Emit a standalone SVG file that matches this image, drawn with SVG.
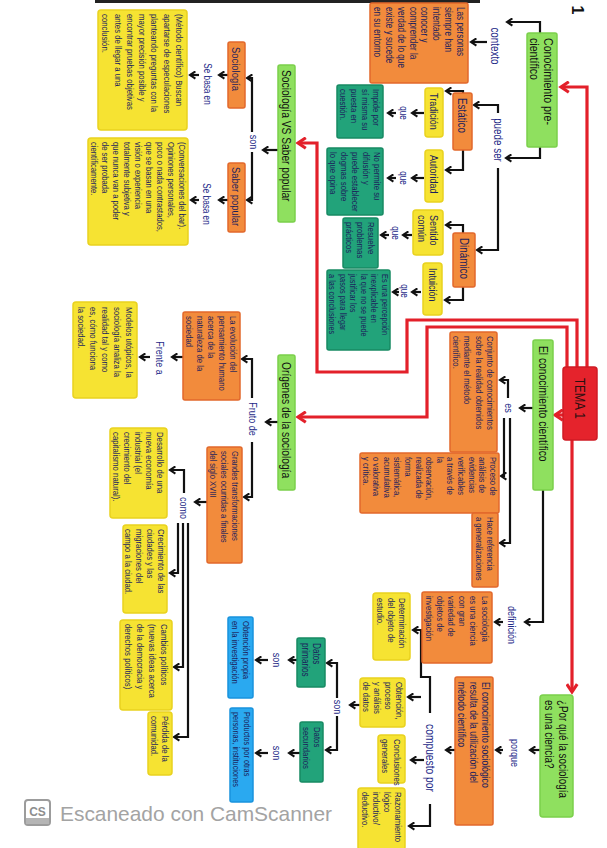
<svg xmlns="http://www.w3.org/2000/svg" width="607" height="848" viewBox="0 0 607 848">
<style>
.or{fill:#f28b3c;stroke:#e2682b;stroke-width:1.5}
.ye{fill:#f6e332;stroke:#e9d21f;stroke-width:1.5}
.lg{fill:#8fe05f;stroke:#7bd04b;stroke-width:1.5}
.tl{fill:#22a37a;stroke:#178a63;stroke-width:1.5}
.bl{fill:#2aa9f0;stroke:#1893dd;stroke-width:1.5}
.rd{fill:#e5232c;stroke:#cf1b24;stroke-width:1.5}
.t{font-family:"Liberation Sans",Arial,sans-serif;fill:#1c1f5c;font-size:9.5px}
.lb{font-family:"Liberation Sans",Arial,sans-serif;fill:#1e2a88;font-size:11px;text-anchor:middle}
.k{fill:none;stroke:#111;stroke-width:2.2;marker-end:url(#ak)}
.r{fill:none;stroke:#e3202a;stroke-width:3.2;marker-end:url(#ar)}
</style>
<defs>
<marker id="ak" viewBox="0 0 10 10" refX="8" refY="5" markerWidth="9" markerHeight="9" markerUnits="userSpaceOnUse" orient="auto"><path d="M2,1 L8,5 L2,9" fill="none" stroke="#111" stroke-width="2.3"/></marker>
<marker id="ar" viewBox="0 0 10 10" refX="8" refY="5" markerWidth="13" markerHeight="13" markerUnits="userSpaceOnUse" orient="auto"><path d="M2,1 L8,5 L2,9" fill="none" stroke="#e3202a" stroke-width="2.4"/></marker>
</defs>
<rect width="607" height="848" fill="#ffffff"/>
<rect x="95" y="0" width="385" height="3" fill="#222"/>
<text x="0" y="5" transform="translate(577,10) rotate(90)" font-family="Liberation Sans,sans-serif" font-size="16" font-weight="bold" text-anchor="middle" fill="#111">1</text>

<g id="connectors">
<path class="r" d="M587,367 V87 H561"/>
<path class="r" d="M577,367 V320 H407 V372 H317 V143 H298"/>
<path class="r" d="M567,367 V327 H427 V417 H298"/>
<path class="r" d="M565,415 H555"/>
<path class="r" d="M572,440 V692"/>

<path class="k" d="M540,33 V22 H507"/>
<path class="k" d="M487,42 H471"/>
<path class="k" d="M540,147 V158 H506"/>
<path class="k" d="M498,113 V105 H474"/>
<path class="k" d="M498,168 V250 H477"/>
<path class="k" d="M463,95 V91 H446"/>
<path class="k" d="M463,150 V170 H446"/>
<path class="k" d="M463,233 V225 H446"/>
<path class="k" d="M463,287 V300 H445"/>
<path class="k" d="M424,113 H412"/><path class="k" d="M396,113 H388"/>
<path class="k" d="M424,178 H412"/><path class="k" d="M396,178 H388"/>
<path class="k" d="M412,235 H403"/><path class="k" d="M389,235 H381"/>
<path class="k" d="M421,292 H412"/><path class="k" d="M399,292 H393"/>

<path class="k" d="M278,150 H263"/>
<path class="k" d="M252,132 V78 H247"/>
<path class="k" d="M252,152 V200 H247"/>
<path class="k" d="M228,75 H219"/><path class="k" d="M199,75 H190"/>
<path class="k" d="M228,200 H219"/><path class="k" d="M199,200 H191"/>

<path class="k" d="M278,422 H266"/>
<path class="k" d="M252,398 V359 H242"/>
<path class="k" d="M252,442 V497 H244"/>
<path class="k" d="M183,357 H172"/><path class="k" d="M150,357 H140"/>
<path class="k" d="M207,502 H195"/>
<path class="k" d="M184,493 V470 H170"/>
<path class="k" d="M178,523 V573 H170"/>
<path class="k" d="M183,523 V667 H174"/>
<path class="k" d="M188,523 V737 H174"/>

<path class="k" d="M533,408 H520"/>
<path class="k" d="M508,398 V380 H500"/>
<path class="k" d="M504,418 V476 H501"/>
<path class="k" d="M510,418 V543 H500"/>
<path class="k" d="M543,490 V622 H525"/>
<path class="k" d="M503,622 H495"/>

<path class="k" d="M540,750 H530"/>
<path class="k" d="M503,750 H496"/>
<path class="k" d="M455,750 H446"/>
<path class="k" d="M430,713 V677 H421 V630 H413"/>
<path class="k" d="M421,697 H408"/>
<path class="k" d="M424,760 H411"/>
<path class="k" d="M430,804 V826 H409"/>
<path class="k" d="M360,705 H350"/>
<path class="k" d="M337,698 V663 H327"/>
<path class="k" d="M337,716 V750 H326"/>
<path class="k" d="M297,660 H289"/><path class="k" d="M268,660 H256"/>
<path class="k" d="M300,753 H289"/><path class="k" d="M268,753 H256"/>

<text class="lb" style="font-size:12px" transform="translate(495,46) rotate(90) scale(0.82,1)" y="4.2">contexto</text>
<text class="lb" style="font-size:12px" transform="translate(498,140) rotate(90) scale(0.82,1)" y="4.2">puede ser</text>
<text class="lb" style="font-size:10px" transform="translate(404,113) rotate(90) scale(0.82,1)" y="3.5">que</text>
<text class="lb" style="font-size:10px" transform="translate(404,178) rotate(90) scale(0.82,1)" y="3.5">que</text>
<text class="lb" style="font-size:10px" transform="translate(396,233) rotate(90) scale(0.82,1)" y="3.5">que</text>
<text class="lb" style="font-size:10px" transform="translate(405,291) rotate(90) scale(0.82,1)" y="3.5">que</text>
<text class="lb" transform="translate(254,142) rotate(90) scale(0.82,1)" y="3.8">son</text>
<text class="lb" style="font-size:10px" transform="translate(208,84) rotate(90) scale(0.82,1)" y="3.5">Se basa en</text>
<text class="lb" style="font-size:10px" transform="translate(207,204) rotate(90) scale(0.82,1)" y="3.5">Se basa en</text>
<text class="lb" transform="translate(160,358) rotate(90) scale(0.82,1)" y="3.8">Frente a</text>
<text class="lb" transform="translate(253,419) rotate(90) scale(0.82,1)" y="3.8">Fruto de</text>
<text class="lb" transform="translate(184,508) rotate(90) scale(0.82,1)" y="3.8">como</text>
<text class="lb" transform="translate(509,408) rotate(90) scale(0.82,1)" y="3.8">es</text>
<text class="lb" transform="translate(512,625) rotate(90) scale(0.82,1)" y="3.8">definición</text>
<text class="lb" transform="translate(515,753) rotate(90) scale(0.82,1)" y="3.8">porque</text>
<text class="lb" style="font-size:12.5px" transform="translate(430,758) rotate(90) scale(0.82,1)" y="4.3">compuesto por</text>
<text class="lb" transform="translate(338,707) rotate(90) scale(0.82,1)" y="3.8">son</text>
<text class="lb" transform="translate(277,660) rotate(90) scale(0.82,1)" y="3.8">son</text>
<text class="lb" transform="translate(277,753) rotate(90) scale(0.82,1)" y="3.8">son</text>
</g>

<g id="tema1"><rect class="rd" x="563" y="367" width="34" height="73" rx="3"/>
<text class="t" style="font-size:14px;fill:#2a1010" transform="translate(580,378) rotate(90) scale(0.82,1)" y="4.9">TEMA 1</text></g>

<g id="pre-cientifico"><rect class="lg" x="527" y="33" width="30" height="114" rx="2"/>
<text class="t" style="font-size:13px;fill:#111" transform="translate(542,38) rotate(90) scale(0.82,1)"><tspan x="0" y="-2.45">Conocimiento pre-</tspan><tspan x="0" y="11.55">científico</tspan></text></g>

<g id="las-personas"><rect class="or" x="370" y="3" width="98" height="80" rx="2"/>
<text class="t" style="font-size:10px" transform="translate(419,7) rotate(90) scale(0.82,1)"><tspan x="0" y="-38.5">Las personas</tspan><tspan x="0" y="-26.5">siempre han</tspan><tspan x="0" y="-14.5">intentado</tspan><tspan x="0" y="-2.5">conocer y</tspan><tspan x="0" y="9.5">comprender la</tspan><tspan x="0" y="21.5">verdad de lo que</tspan><tspan x="0" y="33.5">existe y sucede</tspan><tspan x="0" y="45.5">en su entorno</tspan></text></g>

<g id="estatico"><rect class="or" x="453" y="93" width="19" height="57" rx="2"/>
<text class="t" style="font-size:12px" transform="translate(462.5,98) rotate(90) scale(0.82,1)" y="4.2">Estático</text></g>
<g id="dinamico"><rect class="or" x="453" y="233" width="22" height="54" rx="2"/>
<text class="t" style="font-size:12px" transform="translate(464,238) rotate(90) scale(0.82,1)" y="4.2">Dinámico</text></g>
<g id="tradicion"><rect class="ye" x="425" y="88" width="18" height="49" rx="3"/>
<text class="t" style="font-size:11px" transform="translate(434,93) rotate(90) scale(0.82,1)" y="3.85">Tradición</text></g>
<g id="autoridad"><rect class="ye" x="425" y="150" width="18" height="52" rx="3"/>
<text class="t" style="font-size:11px" transform="translate(434,155) rotate(90) scale(0.82,1)" y="3.85">Autoridad</text></g>
<g id="sentido-comun"><rect class="ye" x="413" y="210" width="30" height="45" rx="3"/>
<text class="t" style="font-size:11px" transform="translate(428,215) rotate(90) scale(0.82,1)"><tspan x="0" y="-2.15">Sentido</tspan><tspan x="0" y="9.85">común</tspan></text></g>
<g id="intuicion"><rect class="ye" x="423" y="263" width="19" height="52" rx="3"/>
<text class="t" style="font-size:11px" transform="translate(432.5,268) rotate(90) scale(0.82,1)" y="3.85">Intuición</text></g>

<g id="impide"><rect class="tl" x="337" y="85" width="46" height="53" rx="2"/>
<text class="t" transform="translate(360,89) rotate(90) scale(0.82,1)"><tspan x="0" y="-13.2">Impide por</tspan><tspan x="0" y="-2.2">sí misma su</tspan><tspan x="0" y="8.8">puesta en</tspan><tspan x="0" y="19.8">cuestión.</tspan></text></g>
<g id="no-permite"><rect class="tl" x="327" y="148" width="56" height="67" rx="2"/>
<text class="t" transform="translate(355,152) rotate(90) scale(0.82,1)"><tspan x="0" y="-18.7">No permite su</tspan><tspan x="0" y="-7.7">difusión y</tspan><tspan x="0" y="3.3">puede establecer</tspan><tspan x="0" y="14.3">dogmas sobre</tspan><tspan x="0" y="25.3">lo que opina</tspan></text></g>
<g id="resuelve"><rect class="tl" x="343" y="218" width="35" height="50" rx="2"/>
<text class="t" transform="translate(360.5,222) rotate(90) scale(0.82,1)"><tspan x="0" y="-7.7">Resuelve</tspan><tspan x="0" y="3.3">problemas</tspan><tspan x="0" y="14.3">prácticos</tspan></text></g>
<g id="percepcion"><rect class="tl" x="327" y="270" width="63" height="80" rx="2"/>
<text class="t" style="font-size:9px" transform="translate(358.5,274) rotate(90) scale(0.82,1)"><tspan x="0" y="-23.1">Es una percepción</tspan><tspan x="0" y="-12.6">inexplicable en</tspan><tspan x="0" y="-2.1">la que no se puede</tspan><tspan x="0" y="8.4">justificar los</tspan><tspan x="0" y="18.9">pasos para llegar</tspan><tspan x="0" y="29.4">a las conclusiones</tspan></text></g>

<g id="soc-vs-saber"><rect class="lg" x="278" y="65" width="17" height="157" rx="2"/>
<text class="t" style="font-size:12.5px;fill:#111" transform="translate(286.5,70) rotate(90) scale(0.82,1)" y="4.4">Sociología VS Saber popular</text></g>
<g id="sociologia"><rect class="or" x="228" y="42" width="17" height="66" rx="2"/>
<text class="t" style="font-size:11.5px" transform="translate(236.5,47) rotate(90) scale(0.82,1)" y="4">Sociología</text></g>
<g id="saber-popular"><rect class="or" x="228" y="163" width="17" height="69" rx="2"/>
<text class="t" style="font-size:11.5px" transform="translate(236.5,167) rotate(90) scale(0.82,1)" y="4">Saber popular</text></g>
<g id="metodo"><rect class="ye" x="98" y="10" width="89" height="120" rx="3"/>
<text class="t" transform="translate(142.5,14) rotate(90) scale(0.82,1)"><tspan x="0" y="-33.6">(Método científico) Buscan</tspan><tspan x="0" y="-21.3">apartarse de especulaciones</tspan><tspan x="0" y="-9">planteando preguntas con la</tspan><tspan x="0" y="3.3">mayor precisión posible y</tspan><tspan x="0" y="15.6">encontrar pruebas objetivas</tspan><tspan x="0" y="27.9">antes de llegar a una</tspan><tspan x="0" y="40.2">conclusión.</tspan></text></g>
<g id="conversaciones"><rect class="ye" x="88" y="138" width="100" height="107" rx="3"/>
<text class="t" style="font-size:9.3px" transform="translate(138,142) rotate(90) scale(0.82,1)"><tspan x="0" y="-40.75">(Conversaciones del bar).</tspan><tspan x="0" y="-29.75">Opiniones personales,</tspan><tspan x="0" y="-18.75">poco o nada contrastados,</tspan><tspan x="0" y="-7.75">que se basan en una</tspan><tspan x="0" y="3.25">visión o experiencia</tspan><tspan x="0" y="14.25">totalmente subjetiva y</tspan><tspan x="0" y="25.25">que nunca van a poder</tspan><tspan x="0" y="36.25">de ser probada</tspan><tspan x="0" y="47.25">científicamente.</tspan></text></g>

<g id="origenes"><rect class="lg" x="278" y="355" width="17" height="135" rx="2"/>
<text class="t" style="font-size:12.5px;fill:#111" transform="translate(286.5,362) rotate(90) scale(0.82,1)" y="4.4">Orígenes de la sociología</text></g>
<g id="evolucion"><rect class="or" x="183" y="312" width="57" height="88" rx="2"/>
<text class="t" transform="translate(211.5,316) rotate(90) scale(0.82,1)"><tspan x="0" y="-18.7">La evolución del</tspan><tspan x="0" y="-7.7">pensamiento humano</tspan><tspan x="0" y="3.3">acerca de la</tspan><tspan x="0" y="14.3">naturaleza de la</tspan><tspan x="0" y="25.3">sociedad</tspan></text></g>
<g id="modelos"><rect class="ye" x="73" y="302" width="64" height="96" rx="3"/>
<text class="t" transform="translate(105,307) rotate(90) scale(0.82,1)"><tspan x="0" y="-20.7">Modelos utópicos, la</tspan><tspan x="0" y="-8.7">sociología analiza la</tspan><tspan x="0" y="3.3">realidad tal y como</tspan><tspan x="0" y="15.3">es, cómo funciona</tspan><tspan x="0" y="27.3">la sociedad.</tspan></text></g>
<g id="grandes"><rect class="or" x="207" y="447" width="35" height="116" rx="2"/>
<text class="t" style="font-size:9.3px" transform="translate(224.5,451) rotate(90) scale(0.82,1)"><tspan x="0" y="-7.75">Grandes transformaciones</tspan><tspan x="0" y="3.25">sociales ocurridas a finales</tspan><tspan x="0" y="14.25">del siglo XVIII</tspan></text></g>
<g id="desarrollo"><rect class="ye" x="110" y="428" width="57" height="90" rx="3"/>
<text class="t" transform="translate(138.5,432) rotate(90) scale(0.82,1)"><tspan x="0" y="-18.7">Desarrollo de una</tspan><tspan x="0" y="-7.7">nueva economía</tspan><tspan x="0" y="3.3">industrial (el</tspan><tspan x="0" y="14.3">crecimiento del</tspan><tspan x="0" y="25.3">capitalismo natural).</tspan></text></g>
<g id="crecimiento"><rect class="ye" x="123" y="525" width="44" height="88" rx="3"/>
<text class="t" transform="translate(145,529) rotate(90) scale(0.82,1)"><tspan x="0" y="-13.2">Crecimiento de las</tspan><tspan x="0" y="-2.2">ciudades y las</tspan><tspan x="0" y="8.8">migraciones del</tspan><tspan x="0" y="19.8">campo a la ciudad.</tspan></text></g>
<g id="cambios"><rect class="ye" x="120" y="620" width="52" height="90" rx="3"/>
<text class="t" transform="translate(146,624) rotate(90) scale(0.82,1)"><tspan x="0" y="-14.7">Cambios políticos</tspan><tspan x="0" y="-2.7">(nuevas ideas acerca</tspan><tspan x="0" y="9.3">de la democracia y</tspan><tspan x="0" y="21.3">derechos políticos)</tspan></text></g>
<g id="perdida"><rect class="ye" x="148" y="712" width="24" height="63" rx="3"/>
<text class="t" transform="translate(160,716) rotate(90) scale(0.82,1)"><tspan x="0" y="-2.2">Pérdida de la</tspan><tspan x="0" y="8.8">comunidad.</tspan></text></g>

<g id="cientifico"><rect class="lg" x="533" y="340" width="20" height="150" rx="2"/>
<text class="t" style="font-size:12.5px;fill:#111" transform="translate(543,346) rotate(90) scale(0.82,1)" y="4.4">El conocimiento científico</text></g>
<g id="conjunto"><rect class="or" x="450" y="332" width="47" height="120" rx="2"/>
<text class="t" transform="translate(473.5,336) rotate(90) scale(0.82,1)"><tspan x="0" y="-13.95">Conjunto de conocimientos</tspan><tspan x="0" y="-2.45">sobre la realidad obtenidos</tspan><tspan x="0" y="9.05">mediante el método</tspan><tspan x="0" y="20.55">científico.</tspan></text></g>
<g id="proceso"><rect class="or" x="360" y="453" width="139" height="60" rx="2"/>
<text class="t" style="font-size:9.3px" transform="translate(429.5,457) rotate(90) scale(0.82,1)"><tspan x="0" y="-60.35">Proceso de</tspan><tspan x="0" y="-49.75">análisis de</tspan><tspan x="0" y="-39.15">evidencias</tspan><tspan x="0" y="-28.55">verificables</tspan><tspan x="0" y="-17.95">a través de</tspan><tspan x="0" y="-7.35">la</tspan><tspan x="0" y="3.25">observación,</tspan><tspan x="0" y="13.85">realizada de</tspan><tspan x="0" y="24.45">forma</tspan><tspan x="0" y="35.05">sistemática,</tspan><tspan x="0" y="45.65">acumulativa</tspan><tspan x="0" y="56.25">o valorativa</tspan><tspan x="0" y="66.85">y crítica.</tspan></text></g>
<g id="hace-referencia"><rect class="or" x="472" y="513" width="26" height="74" rx="2"/>
<text class="t" style="font-size:9.3px" transform="translate(485,517) rotate(90) scale(0.82,1)"><tspan x="0" y="-2.25">Hace referencia</tspan><tspan x="0" y="9.25">a generalizaciones</tspan></text></g>
<g id="la-sociologia"><rect class="or" x="422" y="592" width="70" height="71" rx="2"/>
<text class="t" transform="translate(457,596) rotate(90) scale(0.82,1)"><tspan x="0" y="-24.7">La sociología</tspan><tspan x="0" y="-13.5">es una ciencia</tspan><tspan x="0" y="-2.3">con gran</tspan><tspan x="0" y="8.9">variedad de</tspan><tspan x="0" y="20.1">objetos de</tspan><tspan x="0" y="31.3">investigación</tspan></text></g>

<g id="por-que"><rect class="lg" x="540" y="695" width="33" height="122" rx="3"/>
<text class="t" style="font-size:12px;fill:#111" transform="translate(556.5,700) rotate(90) scale(0.82,1)"><tspan x="0" y="-2.6">¿Por qué la sociología</tspan><tspan x="0" y="11.4">es una ciencia?</tspan></text></g>
<g id="conoc-sociologico"><rect class="or" x="455" y="677" width="38" height="148" rx="2"/>
<text class="t" style="font-size:10.5px" transform="translate(474,682) rotate(90) scale(0.82,1)"><tspan x="0" y="-8.3">El conocimiento sociológico</tspan><tspan x="0" y="3.7">resulta de la utilización del</tspan><tspan x="0" y="15.7">método científico</tspan></text></g>
<g id="determinacion"><rect class="ye" x="373" y="593" width="37" height="67" rx="3"/>
<text class="t" transform="translate(391.5,598) rotate(90) scale(0.82,1)"><tspan x="0" y="-7.7">Determinación</tspan><tspan x="0" y="3.3">del objeto de</tspan><tspan x="0" y="14.3">estudio.</tspan></text></g>
<g id="obtencion"><rect class="ye" x="360" y="678" width="45" height="49" rx="3"/>
<text class="t" transform="translate(382.5,682) rotate(90) scale(0.82,1)"><tspan x="0" y="-13.2">Obtención,</tspan><tspan x="0" y="-2.2">proceso</tspan><tspan x="0" y="8.8">y análisis</tspan><tspan x="0" y="19.8">de datos</tspan></text></g>
<g id="conclusiones"><rect class="ye" x="378" y="735" width="27" height="48" rx="3"/>
<text class="t" transform="translate(391.5,739) rotate(90) scale(0.82,1)"><tspan x="0" y="-2.45">Conclusiones</tspan><tspan x="0" y="9.05">generales</tspan></text></g>
<g id="razonamiento"><rect class="ye" x="358" y="788" width="47" height="62" rx="3"/>
<text class="t" transform="translate(381.5,792) rotate(90) scale(0.82,1)"><tspan x="0" y="-13.2">Razonamiento</tspan><tspan x="0" y="-2.2">lógico</tspan><tspan x="0" y="8.8">inductivo/</tspan><tspan x="0" y="19.8">deductivo.</tspan></text></g>
<g id="datos-primarios"><rect class="tl" x="297" y="638" width="28" height="49" rx="2"/>
<text class="t" style="font-size:10px" transform="translate(311,643) rotate(90) scale(0.82,1)"><tspan x="0" y="-2.25">Datos</tspan><tspan x="0" y="9.25">primarios</tspan></text></g>
<g id="datos-secundarios"><rect class="tl" x="300" y="722" width="23" height="60" rx="2"/>
<text class="t" transform="translate(311.5,727) rotate(90) scale(0.82,1)"><tspan x="0" y="-2.2">Datos</tspan><tspan x="0" y="8.8">secundarios</tspan></text></g>
<g id="obtencion-propia"><rect class="bl" x="228" y="617" width="25" height="81" rx="2"/>
<text class="t" style="font-size:9.3px" transform="translate(240.5,621) rotate(90) scale(0.82,1)"><tspan x="0" y="-2.25">Obtención propia</tspan><tspan x="0" y="8.75">en la investigación</tspan></text></g>
<g id="productos"><rect class="bl" x="230" y="708" width="23" height="94" rx="2"/>
<text class="t" style="font-size:9px" transform="translate(241.5,712) rotate(90) scale(0.82,1)"><tspan x="0" y="-2.25">Productos por otras</tspan><tspan x="0" y="8.75">personas, instituciones</tspan></text></g>

<g id="watermark">
<rect x="25" y="800" width="25" height="25" rx="3" fill="#fff" stroke="#9c9c9c" stroke-width="2"/>
<rect x="26" y="818" width="23" height="6" fill="#b5b5b5"/>
<text x="37.5" y="816" font-family="Liberation Sans,sans-serif" font-size="12" font-weight="bold" text-anchor="middle" fill="#8e8e8e">CS</text>
<text x="60" y="821" font-family="Liberation Sans,sans-serif" font-size="21" fill="#a3a3a3" textLength="272" lengthAdjust="spacingAndGlyphs">Escaneado con CamScanner</text>
</g>
</svg>
